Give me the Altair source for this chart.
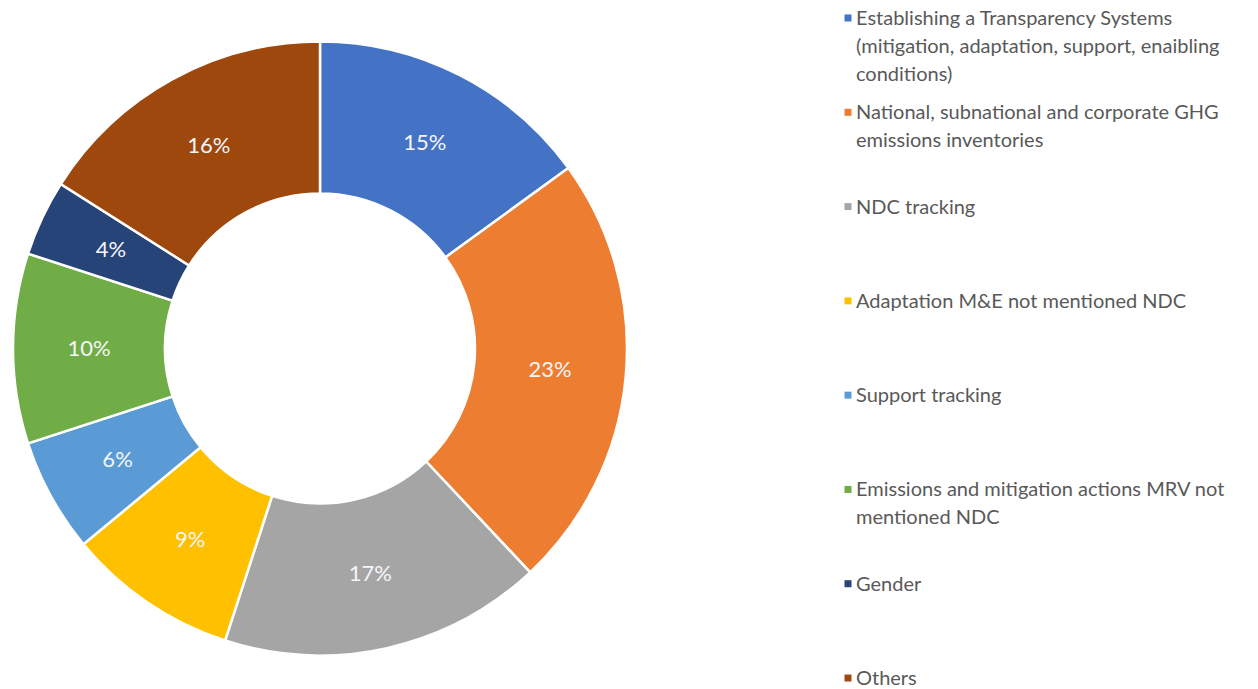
import altair as alt
import pandas as pd

categories = [
    "Establishing a Transparency Systems (mitigation, adaptation, support, enaibling conditions)",
    "National, subnational and corporate GHG emissions inventories",
    "NDC tracking",
    "Adaptation M&E  not mentioned NDC",
    "Support tracking",
    "Emissions and mitigation actions MRV not mentioned NDC",
    "Gender",
    "Others",
]
legend_labels = [
    "Establishing a Transparency Systems\n(mitigation, adaptation, support, enaibling\nconditions)",
    "National, subnational and corporate GHG\nemissions inventories",
    "NDC tracking",
    "Adaptation M&E  not mentioned NDC",
    "Support tracking",
    "Emissions and mitigation actions MRV not\nmentioned NDC",
    "Gender",
    "Others",
]
values = [15, 23, 17, 9, 6, 10, 4, 16]
colors = ["#4472C4", "#ED7D31", "#A5A5A5", "#FFC000", "#5B9BD5", "#70AD47", "#264478", "#9E480E"]

df = pd.DataFrame({
    "category": categories,
    "legend_label": legend_labels,
    "value": values,
    "idx": list(range(len(categories))),
    "label": [f"{v}%" for v in values],
})

color_scale = alt.Scale(domain=categories, range=colors)

base = alt.Chart(df).encode(
    theta=alt.Theta("value:Q", stack=True),
    order=alt.Order("idx:Q"),
)

arcs = base.mark_arc(innerRadius=155, outerRadius=307, stroke="white", strokeWidth=2.5).encode(
    color=alt.Color("category:N", scale=color_scale, legend=None)
)
labels = base.mark_text(radius=231, font="Lato", fontSize=22, color="#F4F6FA").encode(
    text="label:N"
)
pie = alt.layer(arcs, labels).properties(width=614, height=645)

leg_base = alt.Chart(df).encode(
    y=alt.Y("category:N", sort=categories, axis=None,
            scale=alt.Scale(type="point", range=[-8, 652], padding=0)),
)
leg_pts = leg_base.mark_square(size=49, opacity=1).encode(
    x=alt.value(4),
    color=alt.Color("category:N", scale=color_scale, legend=None),
)
leg_txt = leg_base.mark_text(
    align="left", baseline="alphabetic", dy=7, font="Lato", fontSize=20,
    color="#595959", lineBreak="\n", lineHeight=28,
).encode(x=alt.value(12), text="legend_label:N")
legend = alt.layer(leg_pts, leg_txt).properties(width=395, height=645)

chart = alt.hconcat(pie, legend, spacing=212).properties(
    padding={"left": 0, "top": 1, "right": 0, "bottom": 0}
).configure_view(strokeWidth=0)

chart.save("out.html", embed_options={"renderer": "svg", "actions": False})
